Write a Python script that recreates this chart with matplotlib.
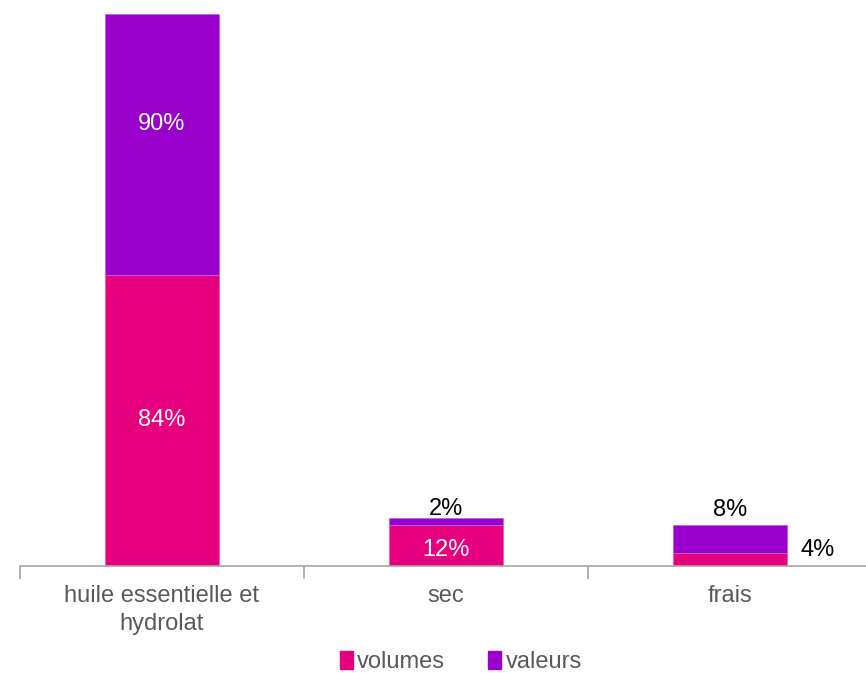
import numpy as np
import matplotlib
matplotlib.use("Agg")
import matplotlib.pyplot as plt
from matplotlib.patches import Patch

plt.rcParams['font.family'] = ['Liberation Sans', 'DejaVu Sans']

# data (bar heights in chart units, labels as printed)
categories = ["huile essentielle et\nhydrolat", "sec", "frais"]
volumes = [291, 41, 13]
valeurs = [261, 7, 28]
volumes_lbl = ["84%", "12%", "4%"]
valeurs_lbl = ["90%", "2%", "8%"]

PINK = "#E6007E"
PURPLE = "#9900CC"

fig = plt.figure(figsize=(8.66, 6.73), dpi=100)
ax = fig.add_axes([20 / 866, 107 / 673, 852 / 866, 552 / 673])

x = np.arange(len(categories))
w = 0.4
ax.bar(x, volumes, w, color=PINK, edgecolor="#F060B0", linewidth=0.6, label="volumes")
ax.bar(x, valeurs, w, bottom=volumes, color=PURPLE, edgecolor="#C060E0", linewidth=0.6, label="valeurs")

ax.set_xlim(-0.5, len(categories) - 0.5)
ax.set_ylim(0, volumes[0] + valeurs[0])

# value labels
fs = 17
ax.text(x[0], volumes[0] / 2, volumes_lbl[0], color="white", ha="center", va="center", fontsize=fs)
ax.text(x[0], volumes[0] + valeurs[0] * 0.58, valeurs_lbl[0], color="white", ha="center", va="center", fontsize=fs)
ax.text(x[1], volumes[1] / 2 - 5, volumes_lbl[1], color="white", ha="center", va="center", fontsize=fs)
ax.text(x[1], volumes[1] + valeurs[1] + 9, valeurs_lbl[1], color="black", ha="center", va="center", fontsize=fs)
ax.text(x[2], volumes[2] + valeurs[2] + 15, valeurs_lbl[2], color="black", ha="center", va="center", fontsize=fs)
ax.text(x[2] + w / 2 + 0.11, volumes[2] + 3, volumes_lbl[2], color="black", ha="center", va="center", fontsize=fs)

# axes styling
for s in ["top", "right", "left"]:
    ax.spines[s].set_visible(False)
ax.spines["bottom"].set_color("#A6A6A6")
ax.spines["bottom"].set_linewidth(1.2)
ax.set_yticks([])
ax.set_xticks(x)
ax.set_xticklabels(categories, fontsize=17, color="#595959", linespacing=1.3)
ax.set_xticks(np.arange(-0.5, len(categories)), minor=True)
ax.tick_params(axis="x", which="major", length=0, pad=14)
ax.tick_params(axis="x", which="minor", length=9, color="#A6A6A6", width=1.2)

handles = [Patch(color=PINK), Patch(color=PURPLE)]
fig.legend(handles, ["volumes", "valeurs"], loc="lower center", bbox_to_anchor=(0.532, -0.025),
           ncol=2, frameon=False, fontsize=17, handlelength=0.55, handleheight=0.8,
           handletextpad=0.2, columnspacing=1.8, labelcolor="#595959",
           borderpad=0.2)

fig.savefig("out.png", dpi=100)
